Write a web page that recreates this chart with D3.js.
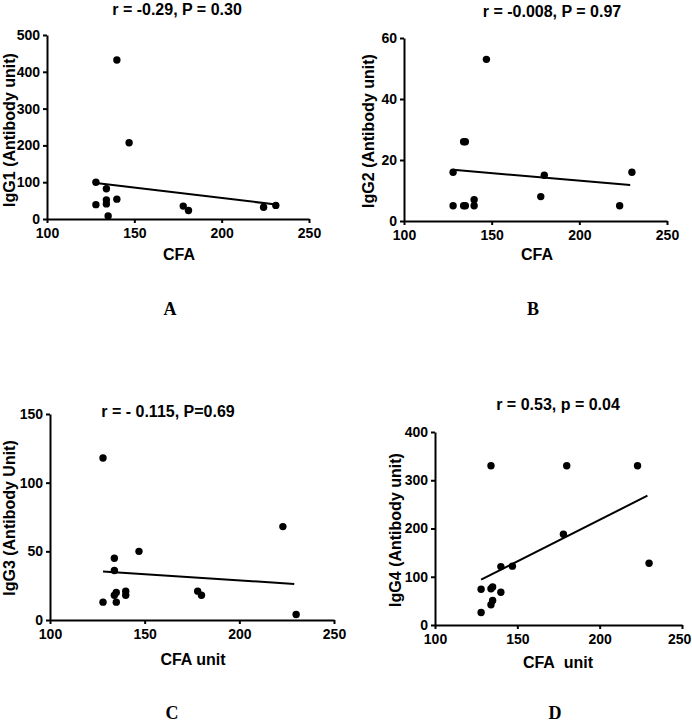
<!DOCTYPE html>
<html><head><meta charset="utf-8">
<script src="https://cdn.jsdelivr.net/npm/d3@7"></script>
<style>
body{margin:0;background:#fff;}
svg{display:block;}
.ax text{font-family:"Liberation Sans",Arial,sans-serif;font-weight:bold;font-size:14px;fill:#000;}
.ax path,.ax line{stroke:#000;stroke-width:2px;}
</style></head><body>
<script>
// ---- data ----
const xTicks = [100,150,200,250];

const cfaA = [128,128,134,134,134,135,140,140,147,178,181,224,231];
const igg1 = [100,39,82,52,41,8,432,54,207,35,23,32,37];
const fitAx = [128,230], fitAy = [98,40];
const yTicksA = [0,100,200,300,400,500];

const cfaB = [128,128,134,135,134,135,140,140,147,178,180,223,230];
const igg2 = [16,5,5,5,26,26,7,5,53,8,15,5,16];
const fitBx = [128,229], fitBy = [16.8,11.8];
const yTicksB = [0,20,40,60];

const cfaC = [128,128,134,134,134,135,135,140,140,147,178,180,223,230];
const igg3 = [118,13,45,36,18,20,13,21,18,50,21,18,68,4];
const fitCx = [128,229], fitCy = [35.3,26.3];
const yTicksC = [0,50,100,150];

const cfaD = [128,128,134,134,134,135,135,140,140,147,178,180,223,230];
const igg4 = [26,74,330,42,75,79,51,121,68,122,188,330,330,128];
const fitDx = [128,229], fitDy = [94,268];
const yTicksD = [0,100,200,300,400];

const titles = ["r = -0.29, P = 0.30","r = -0.008, P = 0.97","r = - 0.115, P=0.69","r = 0.53, p = 0.04"];
const yLabels = ["IgG1 (Antibody unit)","IgG2 (Antibody unit)","IgG3 (Antibody Unit)","IgG4 (Antibody unit)"];
const xLabels = ["CFA","CFA","CFA unit","CFA\u00A0\u00A0unit"];
const panelLetters = ["A","B","C","D"];

// ---- layout ----
const panels = [
  {xs:cfaA, ys:igg1, fx:fitAx, fy:fitAy, yt:yTicksA, ymax:500, xr:[47,309], yr:[219,35],
   title:[177,15], xl:[179,260], yl:[15,130], letter:[170,315], font:"Liberation Sans"},
  {xs:cfaB, ys:igg2, fx:fitBx, fy:fitBy, yt:yTicksB, ymax:60, xr:[404,667], yr:[221,38],
   title:[552,17], xl:[537,260], yl:[374,131], letter:[533,315], font:"Liberation Sans"},
  {xs:cfaC, ys:igg3, fx:fitCx, fy:fitCy, yt:yTicksC, ymax:150, xr:[50,334], yr:[620,414],
   title:[168,417], xl:[193,665], yl:[15,518], letter:[172,719], font:"Liberation Sans"},
  {xs:cfaD, ys:igg4, fx:fitDx, fy:fitDy, yt:yTicksD, ymax:400, xr:[435,682], yr:[625,432],
   title:[558,410], xl:[558,668], yl:[401,530], letter:[555,719], font:"Liberation Sans Narrow"}
];

const W = 692, H = 723;
const svg = d3.select("body").append("svg").attr("width",W).attr("height",H);

panels.forEach((p,i)=>{
  const fam = `"${p.font}","Liberation Sans",Arial,sans-serif`;
  const x = d3.scaleLinear().domain([100,250]).range(p.xr);
  const y = d3.scaleLinear().domain([0,p.ymax]).range(p.yr);
  const g = svg.append("g");

  const xa = g.append("g").attr("class","ax").attr("transform",`translate(0,${p.yr[0]})`)
    .call(d3.axisBottom(x).tickValues(xTicks).tickFormat(d3.format("d")).tickSize(4).tickSizeOuter(0).tickPadding(5));
  xa.selectAll("text").style("font-family",fam);
  // keep tick labels inside the page edge
  xa.selectAll(".tick text").each(function(){
    const b = this.getBBox();
    const tx = x(+d3.select(this.parentNode).datum());
    if (tx + b.x + b.width > W - 1) d3.select(this).attr("x", (W - 1) - tx - b.width/2 - b.x - b.width/2 + b.width/2 - b.width/2);
  });
  g.append("g").attr("class","ax").attr("transform",`translate(${p.xr[0]},0)`)
    .call(d3.axisLeft(y).tickValues(p.yt).tickFormat(d3.format("d")).tickSize(4).tickSizeOuter(0).tickPadding(3))
    .selectAll("text").style("font-family",fam);

  g.append("line")
    .attr("x1",x(p.fx[0])).attr("y1",y(p.fy[0]))
    .attr("x2",x(p.fx[1])).attr("y2",y(p.fy[1]))
    .attr("stroke","#000").attr("stroke-width",2);

  g.selectAll("circle").data(p.xs.map((v,k)=>[v,p.ys[k]])).join("circle")
    .attr("cx",d=>x(d[0])).attr("cy",d=>y(d[1])).attr("r",3.7).attr("fill","#000");

  const tstyle = t=>t.attr("font-family",fam).attr("font-weight","bold").attr("fill","#000");
  g.append("text").attr("x",p.title[0]).attr("y",p.title[1]).attr("text-anchor","middle")
    .attr("font-size",16).text(titles[i]).call(tstyle);
  g.append("text").attr("x",p.xl[0]).attr("y",p.xl[1]).attr("text-anchor","middle")
    .attr("font-size",16).text(xLabels[i]).call(tstyle);
  g.append("text").attr("transform",`translate(${p.yl[0]},${p.yl[1]}) rotate(-90)`).attr("text-anchor","middle")
    .attr("font-size",16).text(yLabels[i]).call(tstyle);
  g.append("text").attr("x",p.letter[0]).attr("y",p.letter[1]).attr("text-anchor","middle")
    .attr("font-family",'"Liberation Serif","Times New Roman",serif').attr("font-weight","bold")
    .attr("font-size",18).text(panelLetters[i]);
});
</script>
</body></html>
